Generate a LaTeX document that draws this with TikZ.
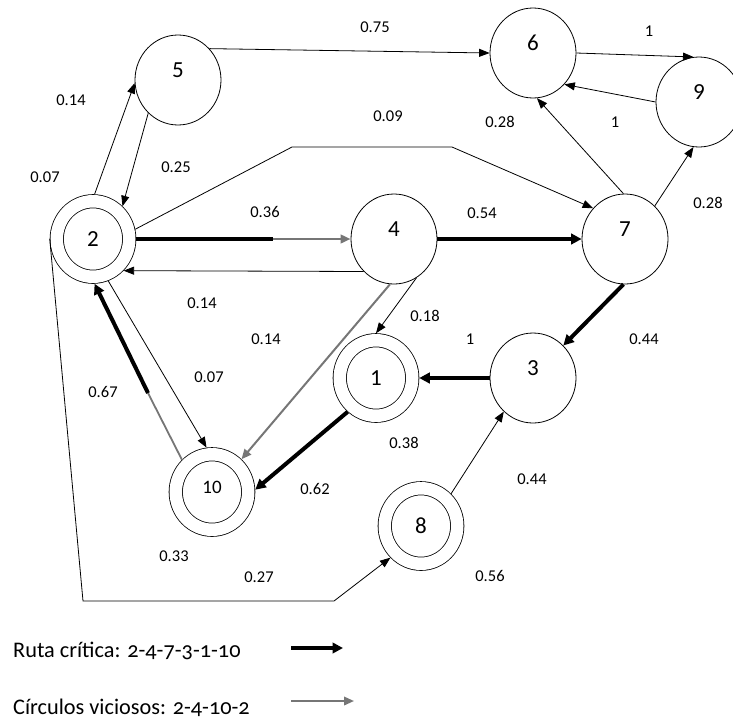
\documentclass[tikz,border=0pt]{standalone}
\usepackage{fontspec}
\setmainfont{Carlito}
\usepackage{tikz}
\usetikzlibrary{arrows.meta, shapes.geometric}
\definecolor{gris}{RGB}{118,118,118}
\newcommand{\arriba}[1]{\raisebox{10pt}[\height][\depth]{#1}}

\begin{document}
\begin{tikzpicture}[x=1pt, y=-1pt,
		estado/.style={ellipse, draw, line width=0.8pt, minimum width=86pt, minimum height=90pt, inner sep=0pt, font=\fontsize{23}{23}\selectfont},
		final/.style={estado, double, double distance=12.5pt, minimum width=72.5pt, minimum height=75.5pt, outer sep=7pt},
		peso/.style={inner sep=0pt, font=\fontsize{16.5}{16.5}\selectfont},
		flecha/.style={-{Triangle[length=10.5pt, width=8pt]}, line width=0.8pt},
		flechagris/.style={-{Triangle[length=10pt, width=8.5pt]}, line width=2pt, gris},
		gruesa/.style={line width=4pt},
		critica/.style={-{Triangle[length=10.5pt, width=10.5pt]}, line width=4pt}]
		\useasboundingbox (0,0) rectangle (733,721);

		% estados
		\node[estado] (n5) at (178,80) {\arriba{5}};
		\node[final] (n2) at (93,239) {2};
		\node[estado] (n4) at (394,239) {\arriba{4}};
		\node[estado] (n6) at (533,53) {\arriba{6}};
		\node[estado] (n9) at (699,102) {\arriba{9}};
		\node[estado] (n7) at (625,239) {\arriba{7}};
		\node[estado] (n3) at (533,378) {\arriba{3}};
		\node[final] (n1) at (376,378) {1};
		\node[final, font=\fontsize{19}{19}\selectfont] (n10) at (212,492) {\raisebox{5pt}[\height][\depth]{10}};
		\node[final] (n8) at (421,526) {8};

		% puntos de quiebre
		\coordinate (c27a) at (292,147);
		\coordinate (c27b) at (452,147);
		\coordinate (c28a) at (83,601);
		\coordinate (c28b) at (334,601);
		\coordinate (c24) at (273,239);
		\coordinate (c102) at (148,393);

		% actividades
		\draw[flecha] (n5.45) -- (n6.180);
		\draw[flecha] (n6.0) -- (n9.97);
		\draw[flecha] (n9.180) -- (n6.-45);
		\draw[flecha] (n7.92) -- (n6.-85);
		\draw[flecha] (n7.48) -- (n9.-97);
		\draw[flecha] (n2.13) -- (c27a) -- (c27b) -- (n7.136);
		\draw[flecha] (n2.88) -- (n5.184);
		\draw[flecha] (n5.228) -- (n2.48);
		\draw[gruesa] (n2.0) -- (c24);
		\draw[flechagris, line width=2.5pt] (c24) -- (n4.180);
		\draw[flecha] (n4.227) -- (n2.-46);
		\draw[critica] (n4.0) -- (n7.180);
		\draw[flecha] (n4.-60) -- (n1.90);
		\draw[flechagris] (n4.-95) -- (n10.48);
		\draw[critica] (n7.-92) -- (n3.47);
		\draw[critica] (n3.180) -- (n1.0);
		\draw[critica] (n1.230) -- (n10.3);
		\draw[flecha] (n8.47) -- (n3.229);
		\draw[flecha] (n2.-70) -- (n10.97);
		\draw[gris, line width=1.8pt] (n10.133) -- (c102);
		\draw[critica] (c102) -- (n2.-88);
		\draw[flecha] (n2.180) -- (c28a) -- (c28b) -- (n8.226);

		% tiempos
		\node[peso] (w56) at (375,27) {0.75};
		\node[peso] (w69) at (649,31) {1};
		\node[peso] (w25) at (71,100) {0.14};
		\node[peso] (w27) at (388,116) {0.09};
		\node[peso] (w76) at (500,122) {0.28};
		\node[peso] (w96) at (615,122) {1};
		\node[peso] (w52) at (176,167) {0.25};
		\node[peso] (w28) at (45,177) {0.07};
		\node[peso] (w79) at (708,203) {0.28};
		\node[peso] (w24) at (265,212) {0.36};
		\node[peso] (w47) at (482,213) {0.54};
		\node[peso] (w42) at (202,303) {0.14};
		\node[peso] (w41) at (425,316) {0.18};
		\node[peso] (w410) at (266,339) {0.14};
		\node[peso] (w31) at (470,339) {1};
		\node[peso] (w73) at (644,339) {0.44};
		\node[peso] (w210) at (209,377) {0.07};
		\node[peso] (w102) at (103,392) {0.67};
		\node[peso] (w1a) at (404,443) {0.38};
		\node[peso] (w110) at (315,489) {0.62};
		\node[peso] (w83) at (532,479) {0.44};
		\node[peso] (w10a) at (174,556) {0.33};
		\node[peso] (w28b) at (259,577) {0.27};
		\node[peso] (w8a) at (490,576) {0.56};

		% leyenda
		\node[anchor=west, inner sep=0pt, font=\fontsize{22.3}{22.3}\selectfont] (ruta) at (13,651) {Ruta crítica: {\addfontfeatures{Numbers=OldStyle}2-4-7-3-1-10}};
		\node[anchor=west, inner sep=0pt, font=\fontsize{22.3}{22.3}\selectfont] (circ) at (13,708) {Círculos viciosos: {\addfontfeatures{Numbers=OldStyle}2-4-10-2}};
		\coordinate (r1) at (291,648);
		\coordinate (r2) at (343,648);
		\coordinate (g1) at (291,701);
		\coordinate (g2) at (354,701);
		\draw[critica, line width=3.5pt] (r1) -- (r2);
		\draw[flechagris] (g1) -- (g2);
	\end{tikzpicture}
\end{document}
